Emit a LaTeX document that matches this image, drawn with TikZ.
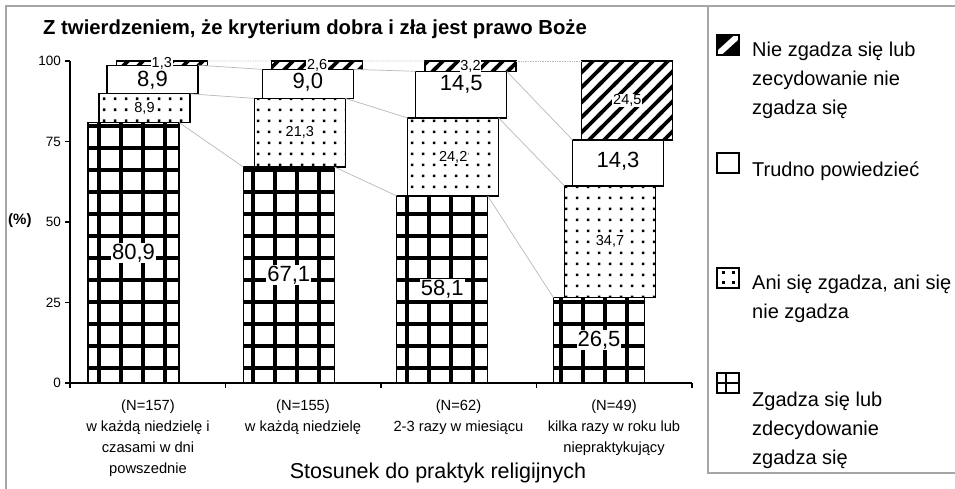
\documentclass[tikz,border=0pt]{standalone}
\usepackage{fontspec}
\setmainfont{Liberation Sans}
\usetikzlibrary{patterns}

% Excel-like fill patterns
\pgfdeclarepatternformonly{xlsgrid}{\pgfqpoint{-1pt}{-1pt}}{\pgfqpoint{23pt}{23pt}}{\pgfqpoint{22pt}{22pt}}{%
  \pgfsetlinewidth{3.6pt}%
  \pgfpathmoveto{\pgfqpoint{-1pt}{11pt}}\pgfpathlineto{\pgfqpoint{23pt}{11pt}}%
  \pgfpathmoveto{\pgfqpoint{11pt}{-1pt}}\pgfpathlineto{\pgfqpoint{11pt}{23pt}}%
  \pgfusepath{stroke}}
\pgfdeclarepatternformonly{xlsdots}{\pgfqpoint{0pt}{0pt}}{\pgfqpoint{11pt}{11pt}}{\pgfqpoint{11pt}{11pt}}{%
  \pgfpathrectangle{\pgfqpoint{4.1pt}{4.1pt}}{\pgfqpoint{2.8pt}{2.8pt}}%
  \pgfusepath{fill}}
\pgfdeclarepatternformonly{xlshatch}{\pgfqpoint{-1pt}{-1pt}}{\pgfqpoint{16pt}{16pt}}{\pgfqpoint{15pt}{15pt}}{%
  \pgfsetlinewidth{3.6pt}%
  \pgfpathmoveto{\pgfqpoint{-2pt}{-2pt}}\pgfpathlineto{\pgfqpoint{17pt}{17pt}}%
  \pgfpathmoveto{\pgfqpoint{-2pt}{13pt}}\pgfpathlineto{\pgfqpoint{2pt}{17pt}}%
  \pgfpathmoveto{\pgfqpoint{13pt}{-2pt}}\pgfpathlineto{\pgfqpoint{17pt}{2pt}}%
  \pgfusepath{stroke}}

\newcommand{\pct}[1]{\pgfmathprintnumber[fixed,fixed zerofill,precision=1,use comma,assume math mode=true]{#1}}

\begin{document}
\begin{tikzpicture}[x=1pt,y=-1pt,
    seg/.style={draw, line width=1.3pt, inner sep=0pt, outer sep=0pt, minimum width=91pt, anchor=south west},
    zgadza/.style={seg, pattern=xlsgrid},
    ani/.style={seg, pattern=xlsdots},
    trudno/.style={seg, fill=white},
    niezg/.style={seg, pattern=xlshatch},
    biglab/.style={fill=white, inner sep=1pt, font=\fontsize{22}{22}\selectfont},
    smalllab/.style={fill=white, inner sep=0.8pt, font=\fontsize{14.5}{14.5}\selectfont},
    serline/.style={gray!55, line width=0.7pt},
    frame/.style={gray!70, line width=1.8pt},
    axis/.style={line width=1.5pt},
    ticklab/.style={anchor=east, inner sep=0pt, font=\fontsize{13.5}{13.5}\selectfont},
    catlab/.style={align=center, anchor=base, inner sep=0pt, font=\fontsize{14.7}{21}\selectfont},
    legtext/.style={align=left, anchor=base west, inner sep=0pt, font=\fontsize{20}{29}\selectfont},
    key/.style={draw, line width=1.3pt, inner sep=0pt, outer sep=0pt, minimum width=22pt, minimum height=20pt, anchor=north west}]

    \fill[white] (0,0) rectangle (955,489);
    \useasboundingbox (0,0) rectangle (955,489);

    % frames of chart and legend
    \draw[frame] (6,495) -- (6,6) -- (960,6);
    \draw[frame] (708,6) -- (708,473) -- (960,473);

    \node[font=\bfseries\fontsize{20.3}{20.3}\selectfont, anchor=base west, inner sep=0pt] (title) at (43,35)
        {Z twierdzeniem, że kryterium dobra i zła jest prawo Boże};

    % stacked, stepped bars
    \foreach \i/\xa/\g/\d/\w/\h/\sh in {1/88/80.9/8.9/8.9/1.3/-0.5, 2/243.3/67.1/21.3/9.0/2.6/1.5,
                                       3/396.7/58.1/24.2/14.5/3.2/10, 4/553.5/26.5/34.7/14.3/24.5/2} {
        \node[zgadza, minimum height=\g*3.22pt] (g\i) at (\xa,383) {};
        \node[ani, minimum height=\d*3.22pt] (d\i) at ([xshift=11pt]g\i.north west) {};
        \node[trudno, minimum height=\w*3.22pt] (w\i) at ([xshift=8pt]d\i.north west) {};
        \node[niezg, minimum height=\h*3.22pt] (h\i) at ([xshift=9.3pt]w\i.north west) {};
        \node[biglab] (lg\i) at (g\i) {\pct{\g}};
        \node[smalllab] (ld\i) at (d\i) {\pct{\d}};
        \node[biglab, yshift=\sh] (lw\i) at (w\i) {\pct{\w}};
        \node[smalllab] (lh\i) at (h\i) {\pct{\h}};
    }

    % series lines
    \foreach \s in {g,d,w}
        \foreach \i/\j in {1/2,2/3,3/4}
            \draw[serline] (\s\i.north east) -- (\s\j.north west);
    \foreach \i/\j in {1/2,2/3,3/4}
        \draw[serline, densely dotted] (h\i.north east) -- (h\j.north west);

    % axes
    \draw[axis] (70,61) -- (70,383) -- (692,383);
    \foreach \v in {0,25,50,75,100} {
        \draw[axis] (65,383-3.22*\v) -- (70,383-3.22*\v);
        \node[ticklab] (t\v) at (61,383-3.22*\v) {\v};
    }
    \foreach \x in {70,225.5,381,536.5,692}
        \draw[axis] (\x,383) -- (\x,388);

    \node[font=\bfseries\fontsize{15}{15}\selectfont, anchor=west, inner sep=0pt] (ylab) at (8,221) {(\%)};

    % base anchor = last line
    \node[catlab] (c1) at (148,473.5) {(N=157)\\w każdą niedzielę i\\czasami w dni\\powszednie};
    \node[catlab] (c2) at (303,431.5) {(N=155)\\w każdą niedzielę};
    \node[catlab] (c3) at (458.5,431.5) {(N=62)\\2-3 razy w miesiącu};
    \node[catlab] (c4) at (614,452.5) {(N=49)\\kilka razy w roku lub\\niepraktykujący};

    \node[font=\fontsize{21.5}{21.5}\selectfont, anchor=base, inner sep=0pt] (xlab) at (438,478)
        {Stosunek do praktyk religijnych};

    % legend
    \node[key, fill=black, path picture={
        \draw[white, line width=6pt] (path picture bounding box.south west) -- (path picture bounding box.north east);}]
        (k1) at (717,35) {};
    \node[legtext] (e1) at (752,115) {Nie zgadza się lub\\zecydowanie nie\\zgadza się};
    \node[key, fill=white] (k2) at (717,153) {};
    \node[legtext] (e2) at (752,176.7) {Trudno powiedzieć};
    \node[key, fill=white, path picture={
        \foreach \dx/\dy in {-6/-6,4/-6,-6/4,4/4}
            \fill[black] ([xshift=\dx, yshift=\dy]path picture bounding box.center) rectangle ++(2.6pt,2.6pt);}]
        (k3) at (717,268) {};
    \node[legtext] (e3) at (752,318) {Ani się zgadza, ani się\\nie zgadza};
    \node[key, fill=white, path picture={
        \draw[black, line width=2.6pt] ([xshift=-2pt]path picture bounding box.north) -- ([xshift=-2pt]path picture bounding box.south)
            (path picture bounding box.west) -- (path picture bounding box.east);}]
        (k4) at (717,373) {};
    \node[legtext] (e4) at (752,464) {Zgadza się lub\\zdecydowanie\\zgadza się};
\end{tikzpicture}
\end{document}
